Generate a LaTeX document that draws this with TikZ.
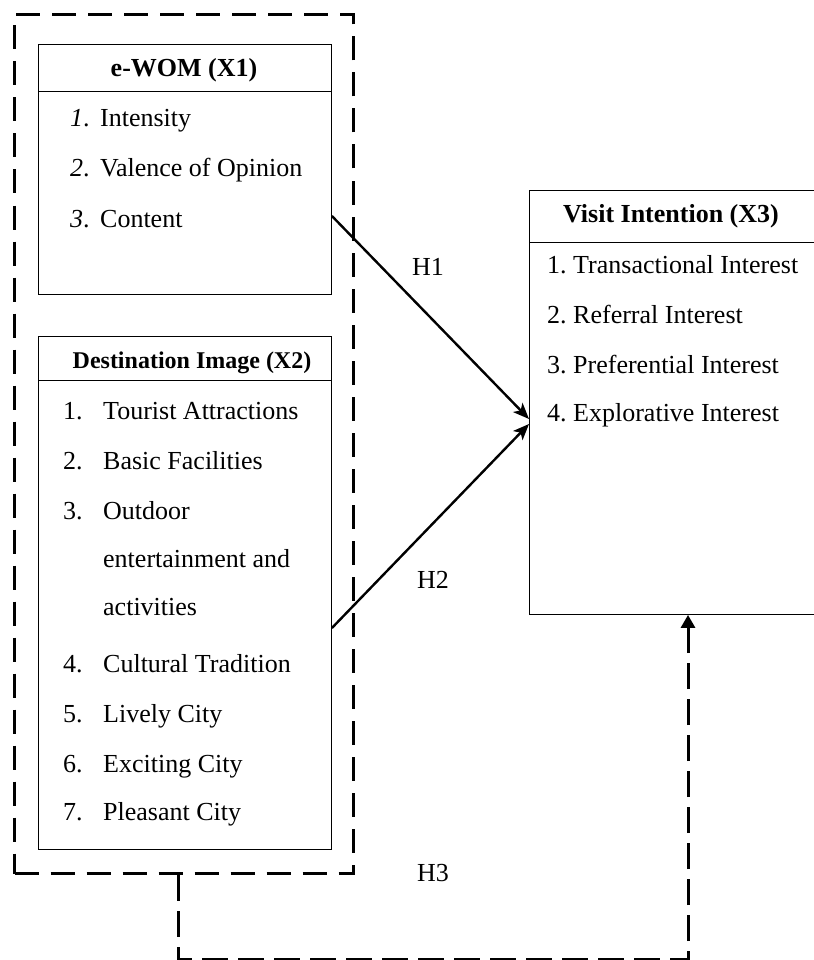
\documentclass[tikz,border=0pt]{standalone}
\usepackage{fontspec}
\setmainfont{Liberation Serif}
\usetikzlibrary{arrows.meta,calc}
\begin{document}
\begin{tikzpicture}[x=1pt,y=-1pt,
  box/.style={draw=black, line width=0.9pt, rectangle, inner sep=0pt, anchor=north west},
  dashbox/.style={draw=black, line width=3pt, dash pattern=on 24pt off 12pt, rectangle, inner sep=0pt, anchor=north west},
  sep/.style={line width=0.9pt},
  item/.style={anchor=base west, inner sep=0pt, font=\fontsize{26}{30}\selectfont},
  ttl/.style={anchor=base, inner sep=0pt, font=\fontsize{26}{30}\selectfont\bfseries},
  hyp/.style={anchor=base, inner sep=0pt, font=\fontsize{26}{30}\selectfont},
  link/.style={line width=2.4pt, -{Stealth[length=16pt,width=13pt,inset=4pt]}},
  dlink/.style={line width=3pt, dash pattern=on 26pt off 10pt, -{Triangle[length=13pt,width=14pt]}}
]
\useasboundingbox (0,0) rectangle (813,960);

% boxes
\node[dashbox, minimum width=339pt, minimum height=859pt] (outer) at (13,13) {};
\node[box, minimum width=293pt, minimum height=250pt] (ewom) at (38,44) {};
\node[box, minimum width=293pt, minimum height=513pt] (dest) at (38,336) {};
\node[box, minimum width=292pt, minimum height=424pt] (visit) at (529,190) {};

% title separators
\draw[sep] ($(ewom.north west)+(0,47)$) -- ($(ewom.north east)+(0,47)$);
\draw[sep] ($(dest.north west)+(0,44)$) -- ($(dest.north east)+(0,44)$);
\draw[sep] ($(visit.north west)+(0,52)$) -- ($(visit.north east)+(0,52)$);

% titles
\node[ttl] (t1) at (184,77) {e-WOM (X1)};
\node[ttl, font=\fontsize{24}{28}\selectfont\bfseries] (t2) at (192,368) {Destination Image (X2)};
\node[ttl] (t3) at (671,222) {Visit Intention (X3)};

% e-WOM items
\node[item] (e1) at (70,127) {\makebox[30pt][l]{\textit{1}.}Intensity};
\node[item] (e2) at (70,177) {\makebox[30pt][l]{\textit{2}.}Valence of Opinion};
\node[item] (e3) at (70,227) {\makebox[30pt][l]{\textit{3}.}Content};

% destination image items
\node[item] (d1) at (63,419) {\makebox[40pt][l]{1.}Tourist Attractions};
\node[item] (d2) at (63,469) {\makebox[40pt][l]{2.}Basic Facilities};
\node[item] (d3) at (63,519) {\makebox[40pt][l]{3.}Outdoor};
\node[item] (d3b) at (103,567) {entertainment and};
\node[item] (d3c) at (103,615) {activities};
\node[item] (d4) at (63,672) {\makebox[40pt][l]{4.}Cultural Tradition};
\node[item] (d5) at (63,722) {\makebox[40pt][l]{5.}Lively City};
\node[item] (d6) at (63,772) {\makebox[40pt][l]{6.}Exciting City};
\node[item] (d7) at (63,820) {\makebox[40pt][l]{7.}Pleasant City};

% visit intention items
\node[item] (v1) at (547,273) {\makebox[26pt][l]{1.}Transactional Interest};
\node[item] (v2) at (547,323) {\makebox[26pt][l]{2.}Referral Interest};
\node[item] (v3) at (547,373) {\makebox[26pt][l]{3.}Preferential Interest};
\node[item] (v4) at (547,421) {\makebox[26pt][l]{4.}Explorative Interest};

% hypotheses labels
\node[hyp] (h1) at (428,275) {H1};
\node[hyp] (h2) at (433,588) {H2};
\node[hyp] (h3) at (433,881) {H3};

% connectors
\draw[link] ($(ewom.north east)+(0,172)$) -- ($(visit.north west)+(0,229)$);
\draw[link] ($(dest.north east)+(0,292)$) -- ($(visit.north west)+(0,234)$);
\draw[dlink] ($(outer.south west)+(165,0)$) -- ++(0,84) -| ($(visit.south west)+(159,0)$);
\end{tikzpicture}
\end{document}
